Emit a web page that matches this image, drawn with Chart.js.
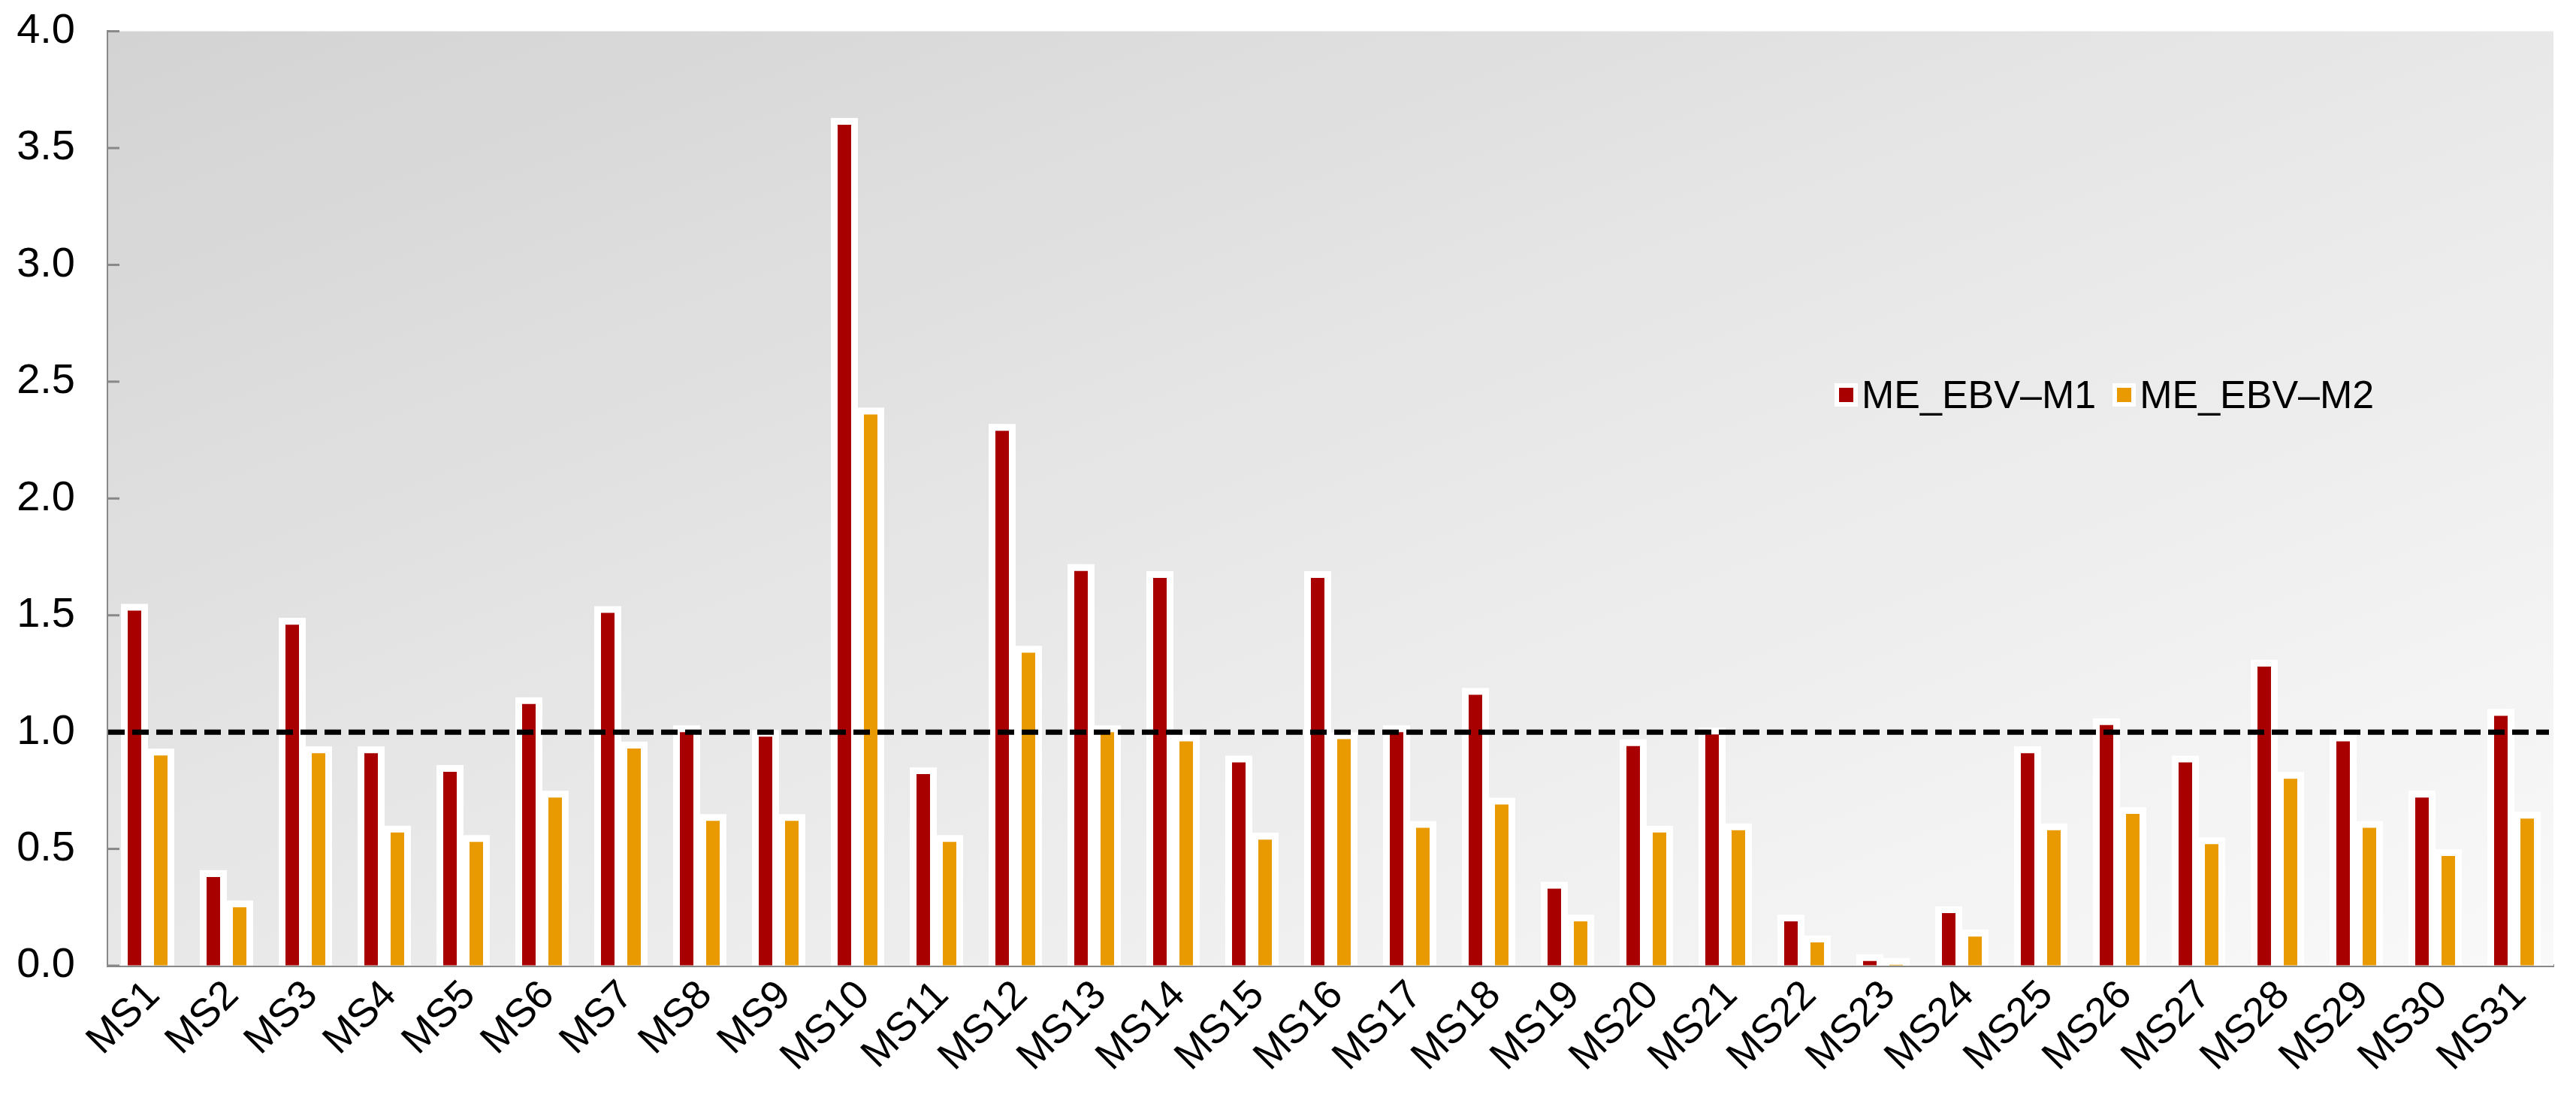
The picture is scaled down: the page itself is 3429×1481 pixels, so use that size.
<!DOCTYPE html>
<html>
<head>
<meta charset="utf-8">
<script src="https://cdn.jsdelivr.net/npm/chart.js@4"></script>
<style>
  body { margin: 0; background: #fff; }
  #wrap { position: relative; width: 3429px; height: 1481px; }
  #legend { position: absolute; left: 2442px; top: 495px; font-family: "Liberation Sans", Arial, sans-serif; font-size: 52px; color: #000; display: flex; align-items: center; white-space: nowrap; }
  .item { display: flex; align-items: center; margin-right: 22px; }
  .box { width: 19px; height: 19px; border: 6px solid #fff; margin-right: 5px; }
</style>
</head>
<body>
<div id="wrap">
  <canvas id="chart"></canvas>
  <div id="legend"></div>
</div>
<script>
const labels = ['MS1','MS2','MS3','MS4','MS5','MS6','MS7','MS8','MS9','MS10','MS11','MS12','MS13','MS14','MS15','MS16','MS17','MS18','MS19','MS20','MS21','MS22','MS23','MS24','MS25','MS26','MS27','MS28','MS29','MS30','MS31'];
const seriesNames = ['ME_EBV\u2013M1', 'ME_EBV\u2013M2'];
const m1 = [1.52,0.38,1.46,0.91,0.83,1.12,1.51,1.00,0.98,3.60,0.82,2.29,1.69,1.66,0.87,1.66,1.00,1.16,0.33,0.94,0.99,0.19,0.02,0.225,0.91,1.03,0.87,1.28,0.96,0.72,1.07];
const m2 = [0.90,0.25,0.91,0.57,0.53,0.72,0.93,0.62,0.62,2.36,0.53,1.34,1.00,0.96,0.54,0.97,0.59,0.69,0.19,0.57,0.58,0.10,0.004,0.125,0.58,0.65,0.52,0.80,0.59,0.47,0.63];
const refLine = 1.0;
const colors = ['#a80000', '#e89a00'];
const font = '"Liberation Sans", Arial, sans-serif';

// gradient background, white glow behind bars, inward ticks, dashed ref line
const decor = {
    id: 'decor',
    beforeDatasetsDraw(chart) {
        const {ctx, chartArea: a} = chart;
        const W = a.right - a.left, H = a.bottom - a.top;
        const d = Math.sqrt(W * W + H * H);
        const cx = (a.left + a.right) / 2, cy = (a.top + a.bottom) / 2;
        const L = W * H / d, ux = H / d, uy = W / d;
        const g = ctx.createLinearGradient(cx - ux * L, cy - uy * L, cx + ux * L, cy + uy * L);
        g.addColorStop(0, '#d3d3d3');
        g.addColorStop(0.5, '#e8e8e8');
        g.addColorStop(1, '#f9f9f9');
        ctx.save();
        ctx.fillStyle = g;
        ctx.fillRect(a.left, a.top, W, H);

        ctx.fillStyle = '#ffffff';
        chart.data.datasets.forEach((ds, i) => {
            chart.getDatasetMeta(i).data.forEach(bar => {
                const p = bar.getProps(['x', 'y', 'base', 'width'], true);
                ctx.fillRect(p.x - p.width / 2 - 9, p.y - 9, p.width + 18, p.base - p.y + 9);
            });
        });

        const ys = chart.scales.y;
        ctx.strokeStyle = '#888';
        ctx.lineWidth = 3;
        ys.ticks.forEach(t => {
            const y = ys.getPixelForValue(t.value);
            ctx.beginPath();
            ctx.moveTo(a.left, y);
            ctx.lineTo(a.left + 15, y);
            ctx.stroke();
        });
        ctx.restore();
    },
    afterDatasetsDraw(chart) {
        const {ctx, chartArea: a} = chart;
        const y = chart.scales.y.getPixelForValue(refLine);
        ctx.save();
        ctx.strokeStyle = '#000';
        ctx.lineWidth = 7;
        ctx.setLineDash([22, 10]);
        ctx.beginPath();
        ctx.moveTo(a.left, y);
        ctx.lineTo(a.right - 6, y);
        ctx.stroke();
        ctx.restore();
    }
};

const ctx = document.getElementById('chart').getContext('2d');
const chart = new Chart(ctx, {
    type: 'bar',
    data: {
        labels: labels,
        datasets: [
            { label: seriesNames[0], data: m1, backgroundColor: colors[0] },
            { label: seriesNames[1], data: m2, backgroundColor: colors[1] }
        ]
    },
    options: {
        responsive: true,
        maintainAspectRatio: false,
        animation: false,
        devicePixelRatio: 1,
        categoryPercentage: 0.667,
        barPercentage: 0.514,
        layout: { padding: { top: 40, right: 30, left: 0, bottom: 0 } },
        plugins: {
            legend: { display: false },
            tooltip: { enabled: false }
        },
        scales: {
            x: {
                grid: { display: false },
                border: { display: true, color: '#888', width: 4 },
                ticks: {
                    color: '#000',
                    font: { family: font, size: 54 },
                    maxRotation: 45,
                    minRotation: 45,
                    padding: 0,
                    labelOffset: 8
                },
                afterFit(scale) { scale.height = 196; }
            },
            y: {
                min: 0,
                max: 4,
                grid: { display: true, drawOnChartArea: false, drawTicks: true, tickLength: 36, tickColor: 'rgba(0,0,0,0)' },
                border: { display: true, color: '#888', width: 4 },
                ticks: {
                    stepSize: 0.5,
                    color: '#000',
                    font: { family: font, size: 56 },
                    padding: 8,
                    callback: v => v.toFixed(1)
                },
                afterFit(scale) { scale.width = 144; }
            }
        }
    },
    plugins: [decor]
});

const legend = document.getElementById('legend');
seriesNames.forEach((name, i) => {
    const item = document.createElement('div');
    item.className = 'item';
    const box = document.createElement('span');
    box.className = 'box';
    box.style.background = colors[i];
    const txt = document.createElement('span');
    txt.textContent = name;
    item.appendChild(box);
    item.appendChild(txt);
    legend.appendChild(item);
});
</script>
</body>
</html>
